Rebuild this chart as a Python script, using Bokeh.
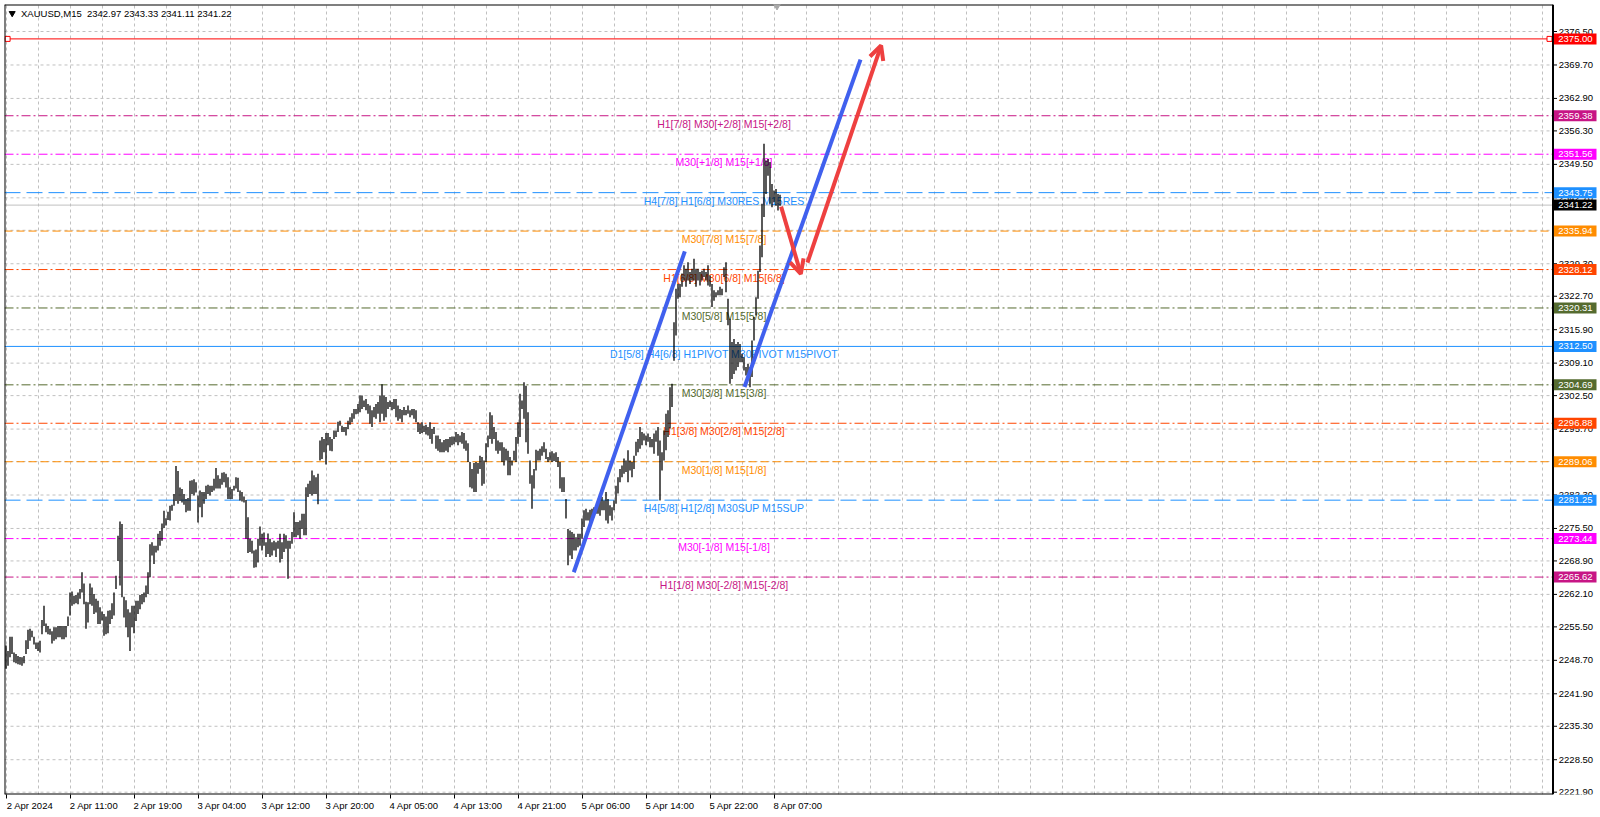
from bokeh.plotting import figure
from bokeh.models import (Range1d, FixedTicker, LinearAxis, Label, Arrow, OpenHead)
from bokeh.core.properties import value
from bokeh.embed import file_html
from bokeh.resources import INLINE

FONT = "Liberation Sans"

# ---------------- data ----------------
header_text = "XAUUSD,M15\u00a0\u00a02342.97 2343.33 2341.11 2341.22"

highs = [
    2251.7, 2250.6, 2253.5, 2253.5, 2250.3, 2250.0, 2249.6, 2249.4, 2249.3, 2249.6,
    2252.8, 2254.9, 2255.1, 2254.7, 2253.5, 2252.3, 2252.3, 2252.7, 2256.9, 2259.8,
    2256.2, 2255.7, 2255.1, 2254.6, 2255.4, 2255.4, 2255.7, 2255.7, 2255.7, 2255.7,
    2255.7, 2257.6, 2262.5, 2262.7, 2261.8, 2262.0, 2262.5, 2263.2, 2266.6, 2264.3,
    2260.6, 2260.5, 2264.3, 2263.5, 2262.2, 2261.2, 2260.8, 2259.5, 2258.6, 2258.1,
    2257.6, 2258.8, 2258.9, 2260.3, 2262.5, 2265.9, 2274.0, 2276.9, 2276.4, 2261.6,
    2260.9, 2259.1, 2258.4, 2259.8, 2259.8, 2260.8, 2260.8, 2262.0, 2262.2, 2262.5,
    2263.9, 2266.6, 2272.3, 2272.7, 2272.0, 2272.0, 2274.4, 2275.0, 2276.5, 2279.1,
    2277.6, 2278.9, 2280.1, 2280.3, 2282.5, 2288.2, 2287.2, 2283.8, 2283.5, 2282.5,
    2281.5, 2281.7, 2285.2, 2285.3, 2285.5, 2284.9, 2282.2, 2283.2, 2282.9, 2282.9,
    2284.2, 2284.4, 2284.2, 2284.2, 2285.6, 2287.8, 2286.3, 2285.6, 2286.8, 2286.9,
    2286.6, 2285.9, 2283.9, 2283.5, 2284.2, 2285.9, 2285.8, 2283.2, 2282.9, 2282.0,
    2281.3, 2277.8, 2273.4, 2273.0, 2271.0, 2271.2, 2273.4, 2275.9, 2274.4, 2274.7,
    2272.7, 2274.5, 2273.4, 2272.7, 2273.0, 2272.7, 2273.0, 2274.4, 2272.7, 2274.4,
    2274.1, 2273.0, 2273.0, 2274.8, 2278.8, 2276.8, 2276.8, 2277.1, 2278.5, 2278.5,
    2283.9, 2284.6, 2285.2, 2287.3, 2286.3, 2285.9, 2286.6, 2293.4, 2294.1, 2293.7,
    2294.9, 2294.9, 2294.1, 2293.7, 2295.4, 2295.4, 2297.2, 2297.4, 2296.4, 2296.1,
    2296.1, 2297.4, 2298.1, 2298.9, 2299.8, 2299.8, 2300.8, 2302.5, 2302.5, 2301.5,
    2301.8, 2300.8, 2300.5, 2299.5, 2300.2, 2300.8, 2301.2, 2302.5, 2304.8, 2302.5,
    2302.2, 2301.2, 2301.5, 2301.2, 2301.8, 2301.8, 2300.5, 2299.8, 2299.6, 2300.2,
    2299.6, 2300.5, 2299.5, 2299.8, 2299.8, 2299.5, 2297.1, 2296.8, 2297.1, 2296.4,
    2296.6, 2296.1, 2297.1, 2295.7, 2296.1, 2294.4, 2294.4, 2293.7, 2293.0, 2293.5,
    2293.7, 2293.7, 2294.1, 2294.2, 2294.2, 2295.1, 2294.7, 2294.4, 2295.1, 2294.9,
    2293.4, 2292.8, 2289.0, 2287.6, 2288.8, 2289.0, 2288.8, 2290.3, 2290.0, 2289.3,
    2292.8, 2294.4, 2299.1, 2298.5, 2296.1, 2295.1, 2293.4, 2293.0, 2293.0, 2292.0,
    2291.7, 2291.3, 2290.0, 2289.3, 2291.3, 2294.1, 2297.1, 2302.9, 2301.5, 2305.2,
    2304.5, 2299.1, 2289.3, 2286.3, 2287.6, 2291.5, 2291.3, 2291.7, 2292.2, 2293.0,
    2291.7, 2290.0, 2291.0, 2291.2, 2290.8, 2291.0, 2290.0, 2289.0, 2285.9, 2285.9,
    2281.5, 2275.4, 2275.1, 2274.8, 2274.4, 2273.7, 2274.4, 2274.4, 2277.5, 2279.2,
    2279.5, 2278.8, 2279.3, 2279.5, 2279.8, 2280.2, 2280.9, 2281.5, 2281.9, 2281.2,
    2282.9, 2281.5, 2280.2, 2279.8, 2281.2, 2284.2, 2285.9, 2287.6, 2288.3, 2289.7,
    2289.3, 2291.4, 2289.3, 2289.0, 2290.3, 2293.1, 2293.7, 2296.1, 2295.1, 2294.8,
    2294.4, 2294.8, 2294.1, 2293.7, 2294.8, 2295.4, 2296.1, 2293.4, 2291.0, 2295.4,
    2298.8, 2299.5, 2304.2, 2304.9, 2317.4, 2324.2, 2325.2, 2325.2, 2327.3, 2329.0,
    2328.3, 2329.6, 2327.6, 2328.3, 2330.3, 2328.3, 2328.3, 2327.6, 2327.9, 2328.3,
    2327.6, 2329.0, 2326.9, 2325.2, 2323.9, 2323.5, 2323.9, 2324.6, 2324.2, 2328.6,
    2329.6, 2322.2, 2318.1, 2313.4, 2314.0, 2313.0, 2313.4, 2313.0, 2311.0, 2310.3,
    2308.3, 2309.0, 2308.3, 2313.7, 2318.5, 2322.5, 2327.9, 2333.0, 2341.5, 2353.7,
    2350.3, 2350.6, 2350.0, 2345.5, 2344.2, 2344.5, 2343.5, 2343.33,
]

lows = [
    2247.0, 2247.6, 2249.3, 2250.0, 2248.3, 2248.1, 2247.9, 2247.8, 2247.6, 2248.1,
    2250.0, 2251.0, 2252.7, 2253.4, 2251.9, 2251.0, 2250.6, 2250.3, 2254.0, 2255.7,
    2254.4, 2254.0, 2253.9, 2252.1, 2252.7, 2253.0, 2253.4, 2253.4, 2253.0, 2253.0,
    2253.4, 2255.7, 2257.8, 2259.8, 2260.1, 2260.3, 2260.1, 2261.2, 2262.5, 2260.1,
    2255.1, 2256.4, 2260.1, 2259.8, 2258.1, 2258.4, 2256.1, 2256.1, 2256.8, 2253.7,
    2254.0, 2254.2, 2256.1, 2257.1, 2257.8, 2263.2, 2268.9, 2263.9, 2261.5, 2257.4,
    2255.4, 2253.4, 2250.6, 2255.4, 2254.2, 2256.7, 2258.1, 2259.1, 2260.1, 2260.5,
    2261.5, 2262.2, 2265.6, 2270.0, 2268.3, 2270.6, 2271.0, 2272.0, 2273.0, 2275.6,
    2276.1, 2277.2, 2277.1, 2279.1, 2280.1, 2281.1, 2280.5, 2281.1, 2280.8, 2280.3,
    2278.8, 2279.1, 2279.1, 2282.5, 2282.2, 2282.8, 2276.7, 2279.8, 2277.8, 2280.5,
    2281.5, 2282.5, 2282.2, 2282.9, 2283.2, 2283.6, 2283.6, 2283.6, 2284.4, 2284.9,
    2283.8, 2281.5, 2281.5, 2281.5, 2283.2, 2283.6, 2282.9, 2281.2, 2281.0, 2280.8,
    2273.4, 2270.5, 2270.7, 2270.4, 2267.5, 2267.6, 2268.6, 2272.0, 2271.0, 2272.0,
    2269.7, 2270.3, 2269.7, 2270.0, 2271.0, 2269.7, 2271.4, 2268.6, 2269.3, 2270.7,
    2271.4, 2265.3, 2271.4, 2272.4, 2273.7, 2273.7, 2274.1, 2273.4, 2275.4, 2274.1,
    2274.1, 2281.9, 2282.5, 2282.2, 2282.5, 2282.5, 2280.4, 2289.3, 2289.6, 2291.0,
    2288.5, 2292.4, 2291.3, 2291.2, 2293.7, 2294.1, 2295.1, 2296.4, 2295.1, 2295.1,
    2294.4, 2295.7, 2296.6, 2297.1, 2297.8, 2298.7, 2298.8, 2299.1, 2299.8, 2300.2,
    2299.5, 2298.8, 2296.8, 2296.1, 2298.1, 2297.8, 2298.8, 2297.1, 2298.8, 2297.4,
    2298.1, 2299.8, 2300.2, 2299.5, 2299.8, 2298.1, 2297.4, 2297.8, 2297.1, 2298.5,
    2298.5, 2298.8, 2298.1, 2298.5, 2297.8, 2297.1, 2295.1, 2294.7, 2294.9, 2295.1,
    2294.6, 2294.4, 2293.7, 2292.7, 2294.7, 2291.7, 2291.3, 2291.0, 2291.0, 2291.0,
    2291.3, 2291.0, 2292.0, 2292.4, 2292.6, 2293.0, 2292.4, 2293.0, 2292.7, 2291.7,
    2291.3, 2289.0, 2283.9, 2283.6, 2282.9, 2282.9, 2286.6, 2287.6, 2284.2, 2284.6,
    2289.0, 2292.0, 2293.7, 2292.7, 2293.7, 2291.3, 2290.7, 2291.3, 2289.0, 2288.3,
    2289.3, 2286.3, 2286.3, 2288.3, 2289.3, 2289.0, 2292.7, 2294.1, 2299.8, 2297.8,
    2293.0, 2290.7, 2284.6, 2279.5, 2283.6, 2287.3, 2289.3, 2289.3, 2290.3, 2291.0,
    2289.6, 2289.0, 2289.3, 2289.0, 2289.2, 2289.0, 2288.0, 2283.6, 2282.9, 2282.9,
    2277.5, 2268.0, 2270.0, 2269.3, 2271.0, 2271.0, 2271.7, 2272.0, 2273.4, 2275.8,
    2277.1, 2277.1, 2276.5, 2277.1, 2277.8, 2278.5, 2278.5, 2278.1, 2279.2, 2279.2,
    2277.1, 2276.5, 2278.1, 2277.1, 2279.2, 2280.5, 2282.6, 2284.9, 2285.9, 2286.6,
    2287.0, 2284.9, 2287.3, 2285.9, 2287.6, 2290.3, 2291.0, 2291.7, 2292.4, 2293.4,
    2292.4, 2293.1, 2292.0, 2292.0, 2290.7, 2293.1, 2290.3, 2281.2, 2287.3, 2289.3,
    2291.4, 2294.1, 2295.8, 2300.2, 2309.6, 2314.7, 2322.2, 2322.5, 2324.6, 2325.9,
    2324.6, 2325.9, 2325.2, 2325.9, 2325.9, 2324.6, 2325.9, 2324.9, 2325.9, 2326.6,
    2325.9, 2324.9, 2324.6, 2320.5, 2321.8, 2322.5, 2322.9, 2322.9, 2322.9, 2326.6,
    2323.5, 2316.8, 2304.9, 2305.9, 2306.9, 2307.6, 2308.3, 2309.3, 2309.3, 2307.6,
    2306.6, 2305.6, 2304.2, 2306.3, 2313.7, 2318.8, 2322.2, 2327.6, 2330.6, 2338.8,
    2343.5, 2347.2, 2341.5, 2340.8, 2341.8, 2341.1, 2340.1, 2341.11,
]

time_labels = ["2 Apr 2024", "2 Apr 11:00", "2 Apr 19:00", "3 Apr 04:00", "3 Apr 12:00",
               "3 Apr 20:00", "4 Apr 05:00", "4 Apr 13:00", "4 Apr 21:00", "5 Apr 06:00",
               "5 Apr 14:00", "5 Apr 22:00", "8 Apr 07:00"]
time_label_bars = [0, 32, 64, 96, 128, 160, 192, 224, 256, 288, 320, 352, 384]
grid_bars = list(range(0, 769, 16))

price_ticks = [2221.9, 2228.5, 2235.3, 2241.9, 2248.7, 2255.5, 2262.1, 2268.9, 2275.5,
               2282.3, 2289.1, 2295.7, 2302.5, 2309.1, 2315.9, 2322.7, 2329.3, 2336.1,
               2342.7, 2349.5, 2356.3, 2362.9, 2369.7, 2376.5]

level_prices = [2375.00, 2359.38, 2351.56, 2343.75, 2335.94, 2328.12, 2320.31, 2312.50,
                2304.69, 2296.88, 2289.06, 2281.25, 2273.44, 2265.62]
level_colors = ["#FF0000", "#C71585", "#FF00FF", "#1E90FF", "#FF8C00", "#FF4500", "#556B2F",
                "#1E90FF", "#556B2F", "#FF4500", "#FF8C00", "#1E90FF", "#FF00FF", "#C71585"]
level_styles = ["solid", "dashdot", "dashdot", "dash", "dashs", "dashdot", "dashdot",
                "solid", "dashdot", "dashdot", "dashs", "dash", "dashdot", "dashdot"]
level_texts = ["", "H1[7/8] M30[+2/8] M15[+2/8]", "M30[+1/8] M15[+1/8]",
               "H4[7/8] H1[6/8] M30RES M15RES", "M30[7/8] M15[7/8]",
               "H1[6/8] M30[6/8] M15[6/8]", "M30[5/8] M15[5/8]",
               "D1[5/8] H4[6/8] H1PIVOT M30PIVOT M15PIVOT", "M30[3/8] M15[3/8]",
               "H1[3/8] M30[2/8] M15[2/8]", "M30[1/8] M15[1/8]",
               "H4[5/8] H1[2/8] M30SUP M15SUP", "M30[-1/8] M15[-1/8]",
               "H1[1/8] M30[-2/8] M15[-2/8]"]
current_price = 2341.22

blue_trend_1_x = [283.9, 339.4]
blue_trend_1_y = [2266.6, 2331.8]
blue_trend_2_x = [369.25, 427.25]
blue_trend_2_y = [2304.25, 2370.8]
red_arrow_1 = [387.55, 2340.9, 397.4, 2327.25]
red_arrow_2 = [400.75, 2329.55, 437.55, 2373.65]

# ---------------- layout constants (bar units, 2 px per bar) ----------------
X0, X1 = -0.75, 797.25          # frame spans the whole width incl. the price scale
Y0, Y1 = 2221.43, 2381.99
EDGE = 773.5                    # right border of the chart area (price scale starts here)
TICK_END = EDGE + 2.0
TICK_TXT = EDGE + 2.9
BOX_CX = EDGE + 11.1
BOX_W = 21.3

p = figure(width=1600, height=817, output_backend="svg", toolbar_location=None,
           x_range=Range1d(X0, X1), y_range=Range1d(Y0, Y1),
           x_axis_location=None, y_axis_location=None,
           min_border_left=4, min_border_top=4, min_border_right=0, min_border_bottom=23,
           background_fill_color="white", border_fill_color="white",
           outline_line_color=None)

# vertical grid
p.xgrid.ticker = FixedTicker(ticks=grid_bars)
p.xgrid.grid_line_color = "#C0C0C0"
p.xgrid.grid_line_dash = "3 3"
p.ygrid.visible = False

n_t = len(price_ticks)
# horizontal grid (stops at the price scale)
p.segment(x0=[X0] * n_t, x1=[EDGE] * n_t, y0=price_ticks, y1=price_ticks,
          line_color="#C0C0C0", line_dash="3 3", line_width=1)

# bottom time axis: tick marks, then labels starting at the ticks
tick_axis = LinearAxis(ticker=FixedTicker(ticks=time_label_bars), major_tick_out=4, major_tick_in=0,
                       minor_tick_out=0, minor_tick_in=0, minor_tick_line_color=None,
                       major_label_text_alpha=0, major_label_text_font_size="1px",
                       major_label_standoff=0, axis_line_color=None,
                       major_tick_line_color="black")
p.add_layout(tick_axis, "below")
label_pos = [b + 12 for b in time_label_bars]
lab_axis = LinearAxis(ticker=FixedTicker(ticks=label_pos),
                      major_label_overrides={pos: t for pos, t in zip(label_pos, time_labels)},
                      axis_line_color=None, major_tick_line_color=None, minor_tick_line_color=None,
                      major_tick_out=0, major_tick_in=0, minor_tick_out=0, minor_tick_in=0,
                      major_label_standoff=1, major_label_text_font=FONT,
                      major_label_text_font_size="9.5px", major_label_text_color="black")
p.add_layout(lab_axis, "below")

# level lines
dash_map = {"solid": "solid", "dashdot": "9 3 2 3", "dash": "16 6", "dashs": "8 4"}
for style, dash in dash_map.items():
    ys = [lv for lv, s in zip(level_prices, level_styles) if s == style]
    cs = [c for c, s in zip(level_colors, level_styles) if s == style]
    p.segment(x0=[X0] * len(ys), x1=[EDGE] * len(ys), y0=ys, y1=ys,
              line_color=cs, line_width=1, line_dash=dash)
p.segment(x0=[X0], x1=[EDGE], y0=[current_price], y1=[current_price],
          line_color="#C0C0C0", line_width=1)

# level texts
txt_idx = [k for k, t in enumerate(level_texts) if t]
LABEL_BAR = 359.0
p.text(x=[LABEL_BAR] * len(txt_idx), y=[level_prices[k] for k in txt_idx],
       text=[level_texts[k] for k in txt_idx], text_color=[level_colors[k] for k in txt_idx],
       text_align="center", text_baseline="middle", y_offset=8,
       text_font=value(FONT), text_font_size="10.5px")

# end markers of the red line
p.scatter(x=[0.8, EDGE - 1.75], y=[level_prices[0]] * 2, marker="square", size=5,
          fill_color="white", line_color="#FF0000", line_width=1)

# price bars
idx = list(range(len(highs)))
p.segment(x0=idx, y0=lows, x1=idx, y1=highs, line_color="black", line_width=1.3)

# trend lines & arrows
BLUE = "#4060EE"
RED = "#EE4040"
p.line(blue_trend_1_x, blue_trend_1_y, line_color=BLUE, line_width=4)
p.line(blue_trend_2_x, blue_trend_2_y, line_color=BLUE, line_width=4)
for a in (red_arrow_1, red_arrow_2):
    p.add_layout(Arrow(x_start=a[0], y_start=a[1], x_end=a[2], y_end=a[3],
                       line_color=RED, line_width=4,
                       end=OpenHead(size=14, line_color=RED, line_width=4)))

# chart border (left, top, right, bottom of the chart area)
p.segment(x0=[X0, X0, EDGE, X0], x1=[X0, EDGE, EDGE, EDGE],
          y0=[Y0, Y1, Y0, Y0], y1=[Y1, Y1, Y1, Y0], line_color="black", line_width=2)

# price scale: ticks and labels
p.segment(x0=[EDGE] * n_t, x1=[TICK_END] * n_t, y0=price_ticks, y1=price_ticks,
          line_color="black", line_width=1)
p.text(x=[TICK_TXT] * n_t, y=price_ticks, text=[f"{t:.2f}" for t in price_ticks],
       text_align="left", text_baseline="middle", text_color="black",
       text_font=value(FONT), text_font_size="9.5px")

# coloured price tags on the scale
tag_prices = level_prices + [current_price]
tag_colors = level_colors + ["#000000"]
p.rect(x=[BOX_CX] * len(tag_prices), y=tag_prices, width=BOX_W, height=11,
       height_units="screen", fill_color=tag_colors, line_color=None)
p.text(x=[TICK_TXT - 0.25] * len(tag_prices), y=tag_prices,
       text=[f"{t:.2f}" for t in tag_prices], text_align="left", text_baseline="middle",
       text_color="white", text_font=value(FONT), text_font_size="9.5px")

# header
p.scatter(x=[3.1], y=[2380.2], marker="inverted_triangle", size=6, color="black")
p.add_layout(Label(x=7.5, y=2380.2, text=header_text, text_baseline="middle",
                   text_font=FONT, text_font_size="9.5px", text_color="black"))
p.scatter(x=[385.5], y=[2381.7], marker="inverted_triangle", size=7, color="#A8A8A8")

open("out.html", "w").write(file_html(p, INLINE))
